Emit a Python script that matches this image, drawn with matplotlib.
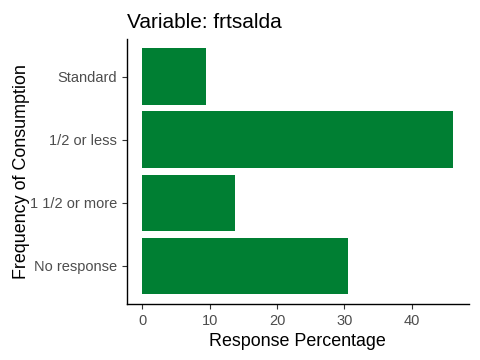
import matplotlib
matplotlib.use("Agg")
import matplotlib.pyplot as plt

plt.rcParams['font.family'] = ['Liberation Sans', 'DejaVu Sans']

categories = ["No response", "1 1/2 or more", "1/2 or less", "Standard"]
percentages = [30.6, 13.7, 46.2, 9.45]
x_ticks = [0, 10, 20, 30, 40]

bar_color = "#007F33"
tick_color = "#4D4D4D"

fig = plt.figure(figsize=(4.8, 3.6), dpi=100)
ax = fig.add_axes([0.264, 0.156, 0.713, 0.736])

ypos = list(range(len(categories)))
ax.barh(ypos, percentages, height=0.9, color=bar_color)

xmax = max(percentages)
ax.set_xlim(-0.05 * xmax, 1.05 * xmax)
ax.set_ylim(-0.6, len(categories) - 0.4)

ax.set_yticks(ypos)
ax.set_yticklabels(categories)
ax.set_xticks(x_ticks)

for side in ("top", "right"):
    ax.spines[side].set_visible(False)
for side in ("left", "bottom"):
    ax.spines[side].set_linewidth(1.0)
    ax.spines[side].set_color("black")

ax.tick_params(axis="both", colors="#333333", labelcolor=tick_color,
               labelsize=10.5, length=3.5, width=0.8)

ax.set_xlabel("Response Percentage", fontsize=12.9, labelpad=4)
ax.set_ylabel("Frequency of Consumption", fontsize=12.9)
# label overlaps the longest tick label a bit, like in the original
ax.yaxis.set_label_coords(-0.282, 0.5)
ax.set_title("Variable: frtsalda", fontsize=15, loc="left", pad=8)

fig.savefig("out.png", dpi=100)
